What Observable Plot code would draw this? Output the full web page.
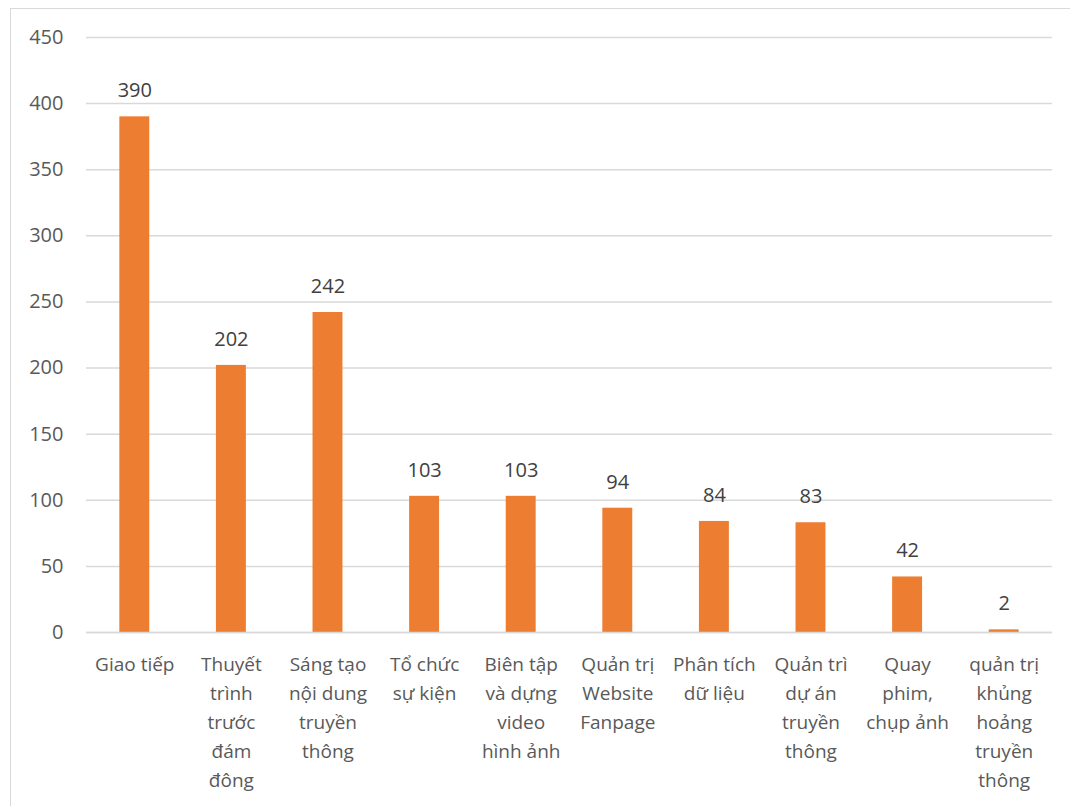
<!DOCTYPE html>
<html>
<head>
<meta charset="utf-8">
<script src="https://cdn.jsdelivr.net/npm/d3@7"></script>
<script src="https://cdn.jsdelivr.net/npm/@observablehq/plot@0.6"></script>
<style>
  html, body { margin: 0; padding: 0; background: #fff; }
  #wrap { position: relative; width: 1070px; height: 806px; overflow: hidden; }
  #frame { position: absolute; left: 10px; top: 8px; width: 1100px; height: 900px;
           border-left: 1.5px solid #d9d9d9; border-top: 1.5px solid #d9d9d9; }
  #chart { position: absolute; left: 0; top: 0; }
</style>
</head>
<body>
<div id="wrap"><div id="frame"></div><div id="chart"></div></div>
<script>
const categories = [
  "Giao tiếp",
  "Thuyết\ntrình\ntrước\nđám\nđông",
  "Sáng tạo\nnội dung\ntruyền\nthông",
  "Tổ chức\nsự kiện",
  "Biên tập\nvà dựng\nvideo\nhình ảnh",
  "Quản trị\nWebsite\nFanpage",
  "Phân tích\ndữ liệu",
  "Quản trì\ndự án\ntruyền\nthông",
  "Quay\nphim,\nchụp ảnh",
  "quản trị\nkhủng\nhoảng\ntruyền\nthông"
];
const values = [390, 202, 242, 103, 103, 94, 84, 83, 42, 2];
const yTicks = [0, 50, 100, 150, 200, 250, 300, 350, 400, 450];

const data = categories.map((c, i) => ({category: c, value: values[i]}));

const chart = Plot.plot({
  width: 1070,
  height: 806,
  marginLeft: 86,
  marginRight: 18,
  marginTop: 37,
  marginBottom: 174,
  style: {fontFamily: "'Open Sans', sans-serif", background: "transparent"},
  x: {domain: categories, paddingInner: 0.69, paddingOuter: 0.345, round: false, label: null},
  y: {domain: [0, 450], label: null},
  marks: [
    Plot.gridY(yTicks, {stroke: "#d9d9d9", strokeOpacity: 1, strokeWidth: 1.5}),
    Plot.barY(data, {x: "category", y: "value", fill: "#ED7D31"}),
    Plot.text(data, {x: "category", y: "value", text: d => String(d.value),
      dy: -26, fontSize: 20, fill: "#404040"}),
    Plot.axisY({ticks: yTicks, tickSize: 0, tickPadding: 23, fontSize: 20,
      fill: "#595959", label: null}),
    Plot.axisX({tickSize: 0, tickPadding: 18, fontSize: 19, lineHeight: 1.52,
      fill: "#595959", label: null, lineAnchor: "top"}),
    Plot.ruleY([0], {stroke: "#d9d9d9", strokeWidth: 1.5})
  ]
});
document.getElementById("chart").appendChild(chart);
</script>
</body>
</html>
